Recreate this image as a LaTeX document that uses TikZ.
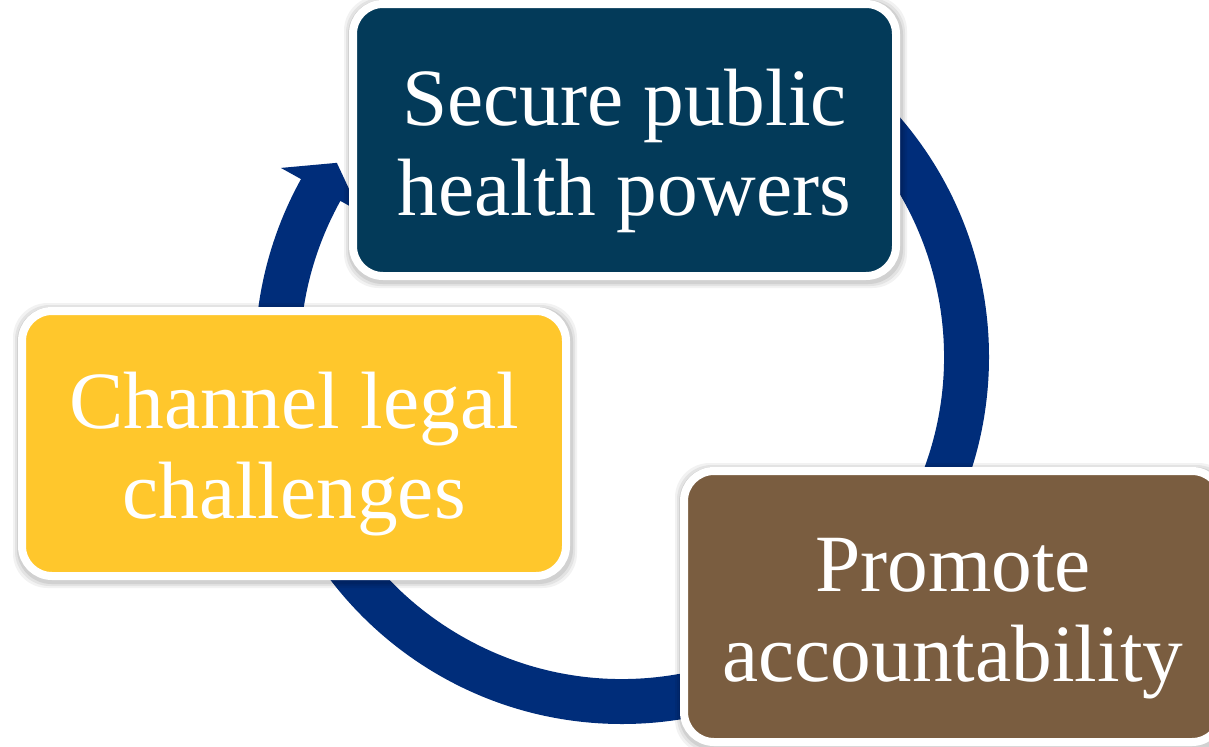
\documentclass[tikz,border=0pt]{standalone}
\usepackage{fontspec}
\setmainfont{Liberation Serif}
\definecolor{ringblue}{RGB}{0,45,122}
\definecolor{topblue}{RGB}{3,58,89}
\definecolor{cardyellow}{RGB}{255,199,44}
\definecolor{cardbrown}{RGB}{122,93,64}
\newcommand\upstrut{\rule{0pt}{58pt}}
% #1 centre x, #2 centre y, #3 half width, #4 half height (px)
\newcommand\cardshadow[4]{%
  \foreach \e/\o in {10/0.05,8/0.06,6/0.08}{%
    \fill[black,opacity=\o,rounded corners=26pt]
      (#1-#3-\e+1,#2+#4+\e-2) rectangle (#1+#3+\e+1,#2-#4-\e-2);
  }%
}
\begin{document}
\begin{tikzpicture}[x=0.75pt,y=0.75pt,
  card/.style={draw=white, line width=6pt, rounded corners=22.5pt, inner sep=0pt,
    text=white, align=center, font=\fontsize{61}{67.5}\selectfont}]
\useasboundingbox (0,0) rectangle (1209,-746);
\clip (0,0) rectangle (1209,-746);
\fill[white] (0,0) rectangle (1209,-746);
% cycle ring with arrow head
\begin{scope}[shift={(622,-357)}]
  \fill[ringblue] (90:367) arc[start angle=90,end angle=-209,radius=367]
    -- (151:390) -- (145.75:345) -- (151:300) -- (151:322)
    arc[start angle=-209,end angle=90,radius=322] -- cycle;
\end{scope}
% shadows
\cardshadow{624.5}{-140}{271.5}{136}
\cardshadow{294}{-443.5}{272}{132.5}
\cardshadow{953}{-606.5}{269}{135.5}
% boxes
\node[card, fill=topblue, minimum width=407.25pt, minimum height=204pt] (secure) at (624.5,-140) {\upstrut Secure public\\health powers};
\node[card, fill=cardyellow, minimum width=408pt, minimum height=198.75pt] (channel) at (294,-443.5) {\upstrut Channel legal\\challenges};
\node[card, fill=cardbrown, minimum width=403.5pt, minimum height=203.25pt] (promote) at (953,-606.5) {\upstrut Promote\\accountability};
\end{tikzpicture}
\end{document}
